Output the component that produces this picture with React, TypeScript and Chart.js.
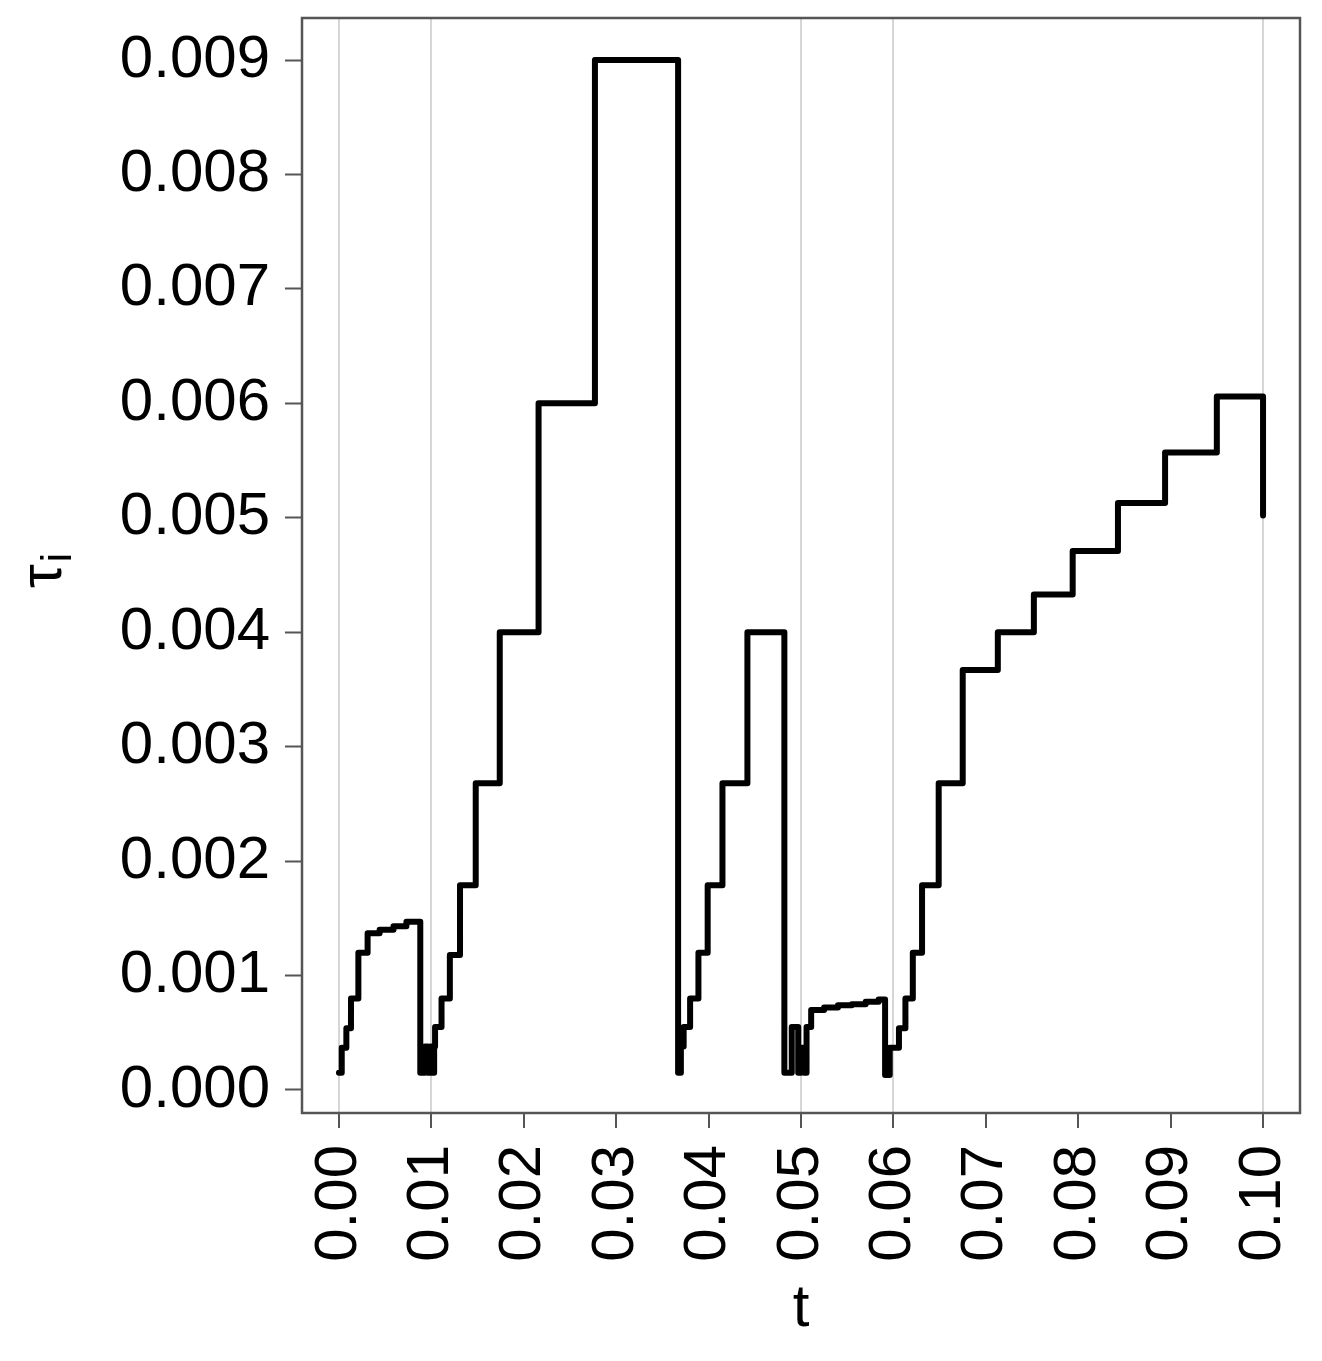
import React, { useEffect, useRef } from "react";
import { Chart, registerables } from "chart.js";

Chart.register(...registerables);

// Step function: tau holds from t[i] until t[i+1]
const tValues = [
  0.0, 0.0003, 0.0008, 0.0013, 0.0021, 0.0031, 0.0044, 0.0059, 0.0073,
  0.0088, 0.0093, 0.0096, 0.0099, 0.0101, 0.0103, 0.0104, 0.0111, 0.012,
  0.0131, 0.0148, 0.0174, 0.0216, 0.0277,
  0.0367, 0.037, 0.0373, 0.038, 0.0389, 0.0399, 0.0415, 0.0442,
  0.0482, 0.049, 0.0497, 0.05, 0.0503, 0.0506,
  0.0511, 0.0525, 0.054, 0.0555, 0.057, 0.0584,
  0.0591, 0.0596, 0.0606, 0.0613, 0.0621, 0.0631, 0.0649, 0.0675, 0.0713,
  0.0752, 0.0794, 0.0843, 0.0894, 0.095, 0.1,
];
const tauValues = [
  0.00015, 0.00037, 0.00054, 0.0008, 0.0012, 0.00137, 0.0014, 0.00143, 0.00147,
  0.00015, 0.00038, 0.00015, 0.00038, 0.00015, 0.00038, 0.00055, 0.0008, 0.00118,
  0.00179, 0.00268, 0.004, 0.006, 0.009,
  0.00015, 0.00038, 0.00055, 0.0008, 0.0012, 0.00179, 0.00268, 0.004,
  0.00015, 0.00055, 0.00015, 0.00037, 0.00015, 0.00055,
  0.0007, 0.00072, 0.00074, 0.00075, 0.00077, 0.00079,
  0.00013, 0.00037, 0.00054, 0.0008, 0.0012, 0.00179, 0.00268, 0.00367, 0.004,
  0.00433, 0.00471, 0.00513, 0.00557, 0.00606, 0.00502,
];

const xTicks = [0, 0.01, 0.02, 0.03, 0.04, 0.05, 0.06, 0.07, 0.08, 0.09, 0.1];
const xGridAt = [0, 0.01, 0.05, 0.06, 0.1];
const yTicks = [0, 0.001, 0.002, 0.003, 0.004, 0.005, 0.006, 0.007, 0.008, 0.009];
const xTitle = "t";
const yTitleMain = "τ";
const yTitleSub = "i";

const FONT = '"Liberation Sans", Arial, Helvetica, sans-serif';

export default function App() {
  const ref = useRef<HTMLCanvasElement | null>(null);

  useEffect(() => {
    const canvas = ref.current;
    if (!canvas) return;

    const framePlugin = {
      id: "frame",
      afterDraw(chart: any) {
        const { ctx, chartArea: a } = chart;
        ctx.save();
        ctx.strokeStyle = "#555555";
        ctx.lineWidth = 2.5;
        ctx.strokeRect(a.left, a.top, a.right - a.left, a.bottom - a.top);
        ctx.restore();

        // y-axis title with subscript
        ctx.save();
        ctx.fillStyle = "#000000";
        ctx.translate(61, 588);
        ctx.rotate(-Math.PI / 2);
        ctx.textAlign = "left";
        ctx.textBaseline = "alphabetic";
        ctx.font = `60px ${FONT}`;
        ctx.fillText(yTitleMain, 0, 0);
        const w = ctx.measureText(yTitleMain).width;
        ctx.font = `42px ${FONT}`;
        ctx.fillText(yTitleSub, w + 2, 10);
        ctx.restore();
      },
    };

    const isGrid = (v: number) => xGridAt.some((g) => Math.abs(g - v) < 1e-9);

    const chart = new Chart(canvas, {
      type: "line",
      data: {
        datasets: [
          {
            data: tValues.map((t, i) => ({ x: t, y: tauValues[i] })),
            borderColor: "#000000",
            borderWidth: 6,
            pointRadius: 0,
            stepped: true,
            fill: false,
            borderJoinStyle: "round",
            borderCapStyle: "round",
          },
        ],
      },
      options: {
        animation: false,
        responsive: false,
        devicePixelRatio: 1,
        layout: { padding: { left: 0, top: 18, right: 22, bottom: 0 } },
        plugins: {
          legend: { display: false },
          tooltip: { enabled: false },
        },
        scales: {
          x: {
            type: "linear",
            min: -0.004,
            max: 0.104,
            afterBuildTicks: (s: any) => {
              s.ticks = xTicks.map((v) => ({ value: v }));
            },
            afterFit: (s: any) => {
              s.height = 248;
              s.paddingLeft = 0;
              s.paddingRight = 0;
              s.paddingTop = 0;
              s.paddingBottom = 0;
            },
            border: { display: false },
            grid: {
              color: (c: any) => (c.tick && isGrid(c.tick.value) ? "#d6d6d6" : "rgba(0,0,0,0)"),
              lineWidth: 2,
              tickColor: "#555555",
              tickWidth: 2,
              tickLength: 15,
            },
            ticks: {
              autoSkip: false,
              minRotation: 90,
              maxRotation: 90,
              padding: 17,
              color: "#000000",
              font: { family: FONT, size: 60 },
              callback: (v: any) => Number(v).toFixed(2),
            },
            title: {
              display: true,
              text: xTitle,
              color: "#000000",
              font: { family: FONT, size: 60 },
              padding: { top: 0, bottom: 16 },
            },
          },
          y: {
            type: "linear",
            min: -0.000201,
            max: 0.009367,
            afterBuildTicks: (s: any) => {
              s.ticks = yTicks.map((v) => ({ value: v }));
            },
            afterFit: (s: any) => {
              s.width = 302;
              s.paddingLeft = 0;
              s.paddingRight = 0;
              s.paddingTop = 0;
              s.paddingBottom = 0;
            },
            border: { display: false },
            grid: {
              drawOnChartArea: false,
              tickColor: "#555555",
              tickWidth: 2,
              tickLength: 17,
            },
            ticks: {
              autoSkip: false,
              padding: 15,
              color: "#000000",
              font: { family: FONT, size: 60 },
              callback: (v: any) => Number(v).toFixed(3),
            },
          },
        },
      },
      plugins: [framePlugin],
    } as any);

    return () => chart.destroy();
  }, []);

  return (
    <div style={{ position: "absolute", left: 0, top: 0, width: 1322, height: 1361, background: "#ffffff" }}>
      <canvas ref={ref} width={1322} height={1361} style={{ display: "block" }} />
    </div>
  );
}
